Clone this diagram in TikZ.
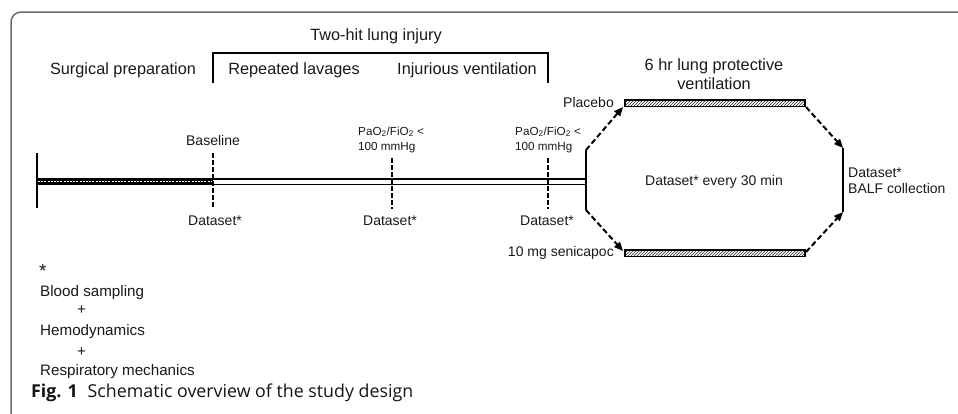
\documentclass[tikz,border=0pt]{standalone}
\usepackage{fontspec}
\setmainfont{Liberation Sans}
\newfontfamily\capfont{Open Sans}
\usetikzlibrary{arrows.meta,patterns}

\tikzset{
  lbl/.style={font=\fontsize{16.3}{19}\selectfont, inner sep=0pt, text=black!90},
  sml/.style={font=\fontsize{14}{16}\selectfont, inner sep=0pt, text=black!90},
  tny/.style={font=\fontsize{11.7}{15}\selectfont, inner sep=0pt, align=left, text=black!90},
  legend/.style={font=\fontsize{15.2}{17}\selectfont, inner sep=0pt, anchor=west, text=black!90},
  solidbar/.style={line width=2.2pt, line cap=butt},
  marker/.style={line width=2pt, dash pattern=on 4.5pt off 2.5pt},
  flow/.style={line width=2pt, dash pattern=on 5.5pt off 3pt,
    -{Triangle[length=9pt,width=7.5pt]}},
  drugbar/.style={line width=1.3pt, pattern=north east lines, pattern color=black!85}
}

\begin{document}
\begin{tikzpicture}[x=1pt,y=-1pt]
\useasboundingbox (0,0) rectangle (958,413);

% panel frame
\draw[color=black!58, line width=1.5pt, rounded corners=10pt]
  (11,420) -- (11,12) -- (965,12);

% phase headings
\node[lbl] (twohit) at (376,36) {Two-hit lung injury};
\node[lbl] (surg) at (123,70) {Surgical preparation};
\node[lbl] (lav) at (294,70) {Repeated lavages};
\node[lbl] (inj) at (467,70) {Injurious ventilation};
\draw[line width=2.2pt] (213,83) -- (213,53) -- (548,53) -- (548,83);
\node[lbl, align=center] (lpv) at (714,74) {6 hr lung protective\\ventilation};

% timeline
\fill[black] (37,178.3) rectangle (213,185.2);
\draw[white, line width=1.4pt, dash pattern=on 2pt off 1.2pt] (38,181.7) -- (212,181.7);
\draw[line width=1.1pt] (213,179) -- (586,179);
\draw[line width=1.7pt] (213,184.6) -- (586,184.6);
\coordinate (tl) at (37,153);
\coordinate (bl) at (37,208);
\draw[solidbar] (tl) -- (bl);
\coordinate (tr) at (586,150);
\coordinate (br) at (586,210);
\draw[solidbar] (tr) -- (br);

% time points
\draw[marker] (213,153) -- (213,209);
\draw[marker] (392,158) -- (392,209);
\draw[marker] (548,158) -- (548,209);
\node[sml] (base) at (213,140) {Baseline};
\node[tny, anchor=west] (pf1) at (358,139.5) {PaO\textsubscript{2}/FiO\textsubscript{2} <\\100 mmHg};
\node[tny, anchor=west] (pf2) at (515,139.5) {PaO\textsubscript{2}/FiO\textsubscript{2} <\\100 mmHg};
\node[sml] (ds1) at (215,221) {Dataset*};
\node[sml] (ds2) at (390,221) {Dataset*};
\node[sml] (ds3) at (547,221) {Dataset*};

% treatment arms
\draw[drugbar] (625,100) rectangle (805,106.5);
\draw[drugbar] (625,250) rectangle (805,256.5);
\coordinate (pin) at (623,107);
\coordinate (pout) at (806,107);
\coordinate (sin) at (623,251);
\coordinate (sout) at (806,252);
\node[sml, anchor=east] (plac) at (614,102) {Placebo};
\node[sml, anchor=east] (seni) at (614,253) {10 mg senicapoc};
\coordinate (etop) at (843,148);
\coordinate (ebot) at (843,212);
\draw[solidbar] (etop) -- (ebot);
\draw[flow] (tr) -- (pin);
\draw[flow] (br) -- (sin);
\draw[flow] (pout) -- (etop);
\draw[flow] (sout) -- (ebot);
\node[sml] (every) at (714,182) {Dataset* every 30 min};
\node[sml, anchor=west, align=left] (balf) at (848,181) {Dataset*\\BALF collection};

% legend for the dataset
\node[legend, font=\fontsize{19}{19}\selectfont] (star) at (39,271) {*};
\node[legend] (blood) at (40,293) {Blood sampling};
\node[legend] (plus1) at (77,310) {+};
\node[legend] (hemo) at (40,332) {Hemodynamics};
\node[legend] (plus2) at (77,352) {+};
\node[legend] (resp) at (40,372) {Respiratory mechanics};

% caption
\node[anchor=west, inner sep=0pt, font=\capfont\fontsize{17.8}{20}\selectfont, text=black!92]
  (cap) at (31,393) {\textbf{Fig. 1}\hspace{0.55em}Schematic overview of the study design};
\end{tikzpicture}
\end{document}
